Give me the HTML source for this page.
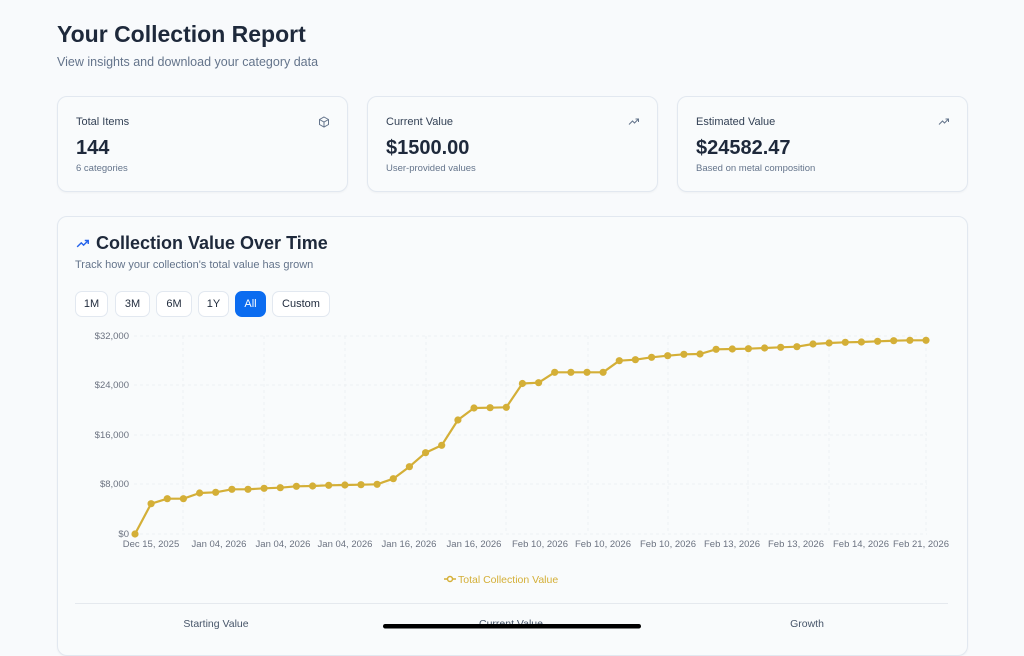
<!DOCTYPE html>
<html><head><meta charset="utf-8"><style>
*{box-sizing:border-box;margin:0;padding:0}
body{width:1024px;height:634px;overflow:hidden;background:#f8fafc;font-family:"Liberation Sans",sans-serif;color:#1e293b;position:relative}
.abs{position:absolute}
.card{position:absolute;border:1px solid #e2e8f0;border-radius:10px;background:#f9fbfc;box-shadow:0 1px 2px rgba(0,0,0,.04)}
.lbl{font-size:11px;color:#334155;position:absolute}
.big{font-size:20px;font-weight:bold;position:absolute;color:#1e293b}
.sub{font-size:9.5px;color:#64748b;position:absolute}
.btn{position:absolute;top:291px;height:26px;border:1px solid #e2e8f0;border-radius:7px;background:#fff;font-size:11px;text-align:center;line-height:24px;color:#1e293b}
</style></head><body>
<div class="abs" style="left:57px;top:21px;font-size:23px;font-weight:bold">Your Collection Report</div>
<div class="abs" style="left:57px;top:55px;font-size:12.5px;color:#64748b">View insights and download your category data</div>

<div class="card" style="left:57px;top:96px;width:291px;height:96px">
<div class="lbl" style="left:18px;top:19px">Total Items</div>
<svg class="abs" style="left:260px;top:19px" width="12" height="12" viewBox="0 0 24 24" fill="none" stroke="#64748b" stroke-width="2"><path d="M12 2l9 5v10l-9 5-9-5V7z M3 7l9 5 9-5 M12 12v10"/></svg>
<div class="big" style="left:18px;top:40px">144</div>
<div class="sub" style="left:18px;top:66px">6 categories</div></div>
<div class="card" style="left:367px;top:96px;width:291px;height:96px">
<div class="lbl" style="left:18px;top:19px">Current Value</div>
<svg class="abs" style="left:260px;top:19px" width="12" height="12" viewBox="0 0 24 24" fill="none" stroke="#64748b" stroke-width="2"><path d="M2 17l7-7 4 4 8-8 M15 6h6v6"/></svg>
<div class="big" style="left:18px;top:40px">$1500.00</div>
<div class="sub" style="left:18px;top:66px">User-provided values</div></div>
<div class="card" style="left:677px;top:96px;width:291px;height:96px">
<div class="lbl" style="left:18px;top:19px">Estimated Value</div>
<svg class="abs" style="left:260px;top:19px" width="12" height="12" viewBox="0 0 24 24" fill="none" stroke="#64748b" stroke-width="2"><path d="M2 17l7-7 4 4 8-8 M15 6h6v6"/></svg>
<div class="big" style="left:18px;top:40px">$24582.47</div>
<div class="sub" style="left:18px;top:66px">Based on metal composition</div></div>

<div class="card" style="left:57px;top:216px;width:911px;height:440px"></div>
<svg class="abs" style="left:75px;top:237px" width="16" height="14" viewBox="0 0 24 24" fill="none" stroke="#2563eb" stroke-width="2.4"><path d="M2 17l7-7 4 4 8-8 M15 6h6v6"/></svg>
<div class="abs" style="left:96px;top:233px;font-size:18px;font-weight:bold">Collection Value Over Time</div>
<div class="abs" style="left:75px;top:259px;font-size:11px;color:#64748b">Track how your collection's total value has grown</div>
<div class="btn" style="left:75px;width:33px">1M</div>
<div class="btn" style="left:115px;width:35px">3M</div>
<div class="btn" style="left:156px;width:36px">6M</div>
<div class="btn" style="left:198px;width:31px">1Y</div>
<div class="btn" style="left:235px;width:31px;background:#0b6cf0;border-color:#0b6cf0;color:#fff">All</div>
<div class="btn" style="left:272px;width:58px">Custom</div>

<svg class="abs" style="left:0;top:0" width="1024" height="634" id="ch">
<g stroke="#edf0f3" stroke-dasharray="3 3" stroke-width="1">
<line x1="134" x2="927" y1="336" y2="336"/><line x1="134" x2="927" y1="385" y2="385"/><line x1="134" x2="927" y1="435" y2="435"/><line x1="134" x2="927" y1="484" y2="484"/><line x1="134" x2="927" y1="534" y2="534"/>
<line x1="183" x2="183" y1="336" y2="534"/><line x1="264" x2="264" y1="336" y2="534"/><line x1="345" x2="345" y1="336" y2="534"/><line x1="426" x2="426" y1="336" y2="534"/><line x1="506" x2="506" y1="336" y2="534"/><line x1="588" x2="588" y1="336" y2="534"/><line x1="668" x2="668" y1="336" y2="534"/><line x1="748" x2="748" y1="336" y2="534"/><line x1="829" x2="829" y1="336" y2="534"/><line x1="926" x2="926" y1="336" y2="534"/>
</g>
<g font-size="9.5" fill="#6b7280" text-anchor="end">
<text x="129" y="339">$32,000</text><text x="129" y="388">$24,000</text><text x="129" y="438">$16,000</text><text x="129" y="487">$8,000</text><text x="129" y="537">$0</text></g>
<g font-size="9.5" fill="#6b7280" text-anchor="middle">
<text x="151" y="547">Dec 15, 2025</text><text x="219" y="547">Jan 04, 2026</text><text x="283" y="547">Jan 04, 2026</text><text x="345" y="547">Jan 04, 2026</text><text x="409" y="547">Jan 16, 2026</text><text x="474" y="547">Jan 16, 2026</text><text x="540" y="547">Feb 10, 2026</text><text x="603" y="547">Feb 10, 2026</text><text x="668" y="547">Feb 10, 2026</text><text x="732" y="547">Feb 13, 2026</text><text x="796" y="547">Feb 13, 2026</text><text x="861" y="547">Feb 14, 2026</text><text x="921" y="547">Feb 21, 2026</text></g>
<polyline id="pl" fill="none" stroke="#d4af37" stroke-width="2.2" stroke-linejoin="round"/>
<g id="dots" fill="#d4af37"></g>
<line x1="444" x2="456" y1="579" y2="579" stroke="#d4af37" stroke-width="1.5"/><circle cx="450" cy="579" r="2.5" fill="#fff" stroke="#d4af37" stroke-width="1.5"/>
<text x="458" y="583" font-size="10.5" fill="#d4af37">Total Collection Value</text>
<line x1="75" x2="948" y1="603.5" y2="603.5" stroke="#e5e9ee"/>
<g font-size="10.5" fill="#475569" text-anchor="middle"><text x="216" y="627">Starting Value</text><text x="511" y="627">Current Value</text><text x="807" y="627">Growth</text></g>
<rect x="383" y="624" width="258" height="4.5" rx="2.2" fill="#000"/>
</svg>
<script>
var ys=[534,503.7,498.7,498.7,493,492.3,489.3,489.3,488.3,487.7,486.3,486,485.3,485,484.7,484.3,478.7,466.7,452.7,445.3,420,408,407.7,407.3,383.5,382.7,372.3,372.3,372.3,372.3,360.7,359.7,357.3,355.7,354.3,354,349.3,349,348.7,348,347.3,346.7,344,343,342.3,342,341.3,340.7,340.3,340.3];
var pts=[],g=document.getElementById('dots'),h='';
for(var i=0;i<ys.length;i++){var x=135+i*(791/49);pts.push(x.toFixed(1)+','+ys[i]);h+='<circle cx="'+x.toFixed(1)+'" cy="'+ys[i]+'" r="3.6"/>';}
document.getElementById('pl').setAttribute('points',pts.join(' '));g.innerHTML=h;
</script>
</body></html>
